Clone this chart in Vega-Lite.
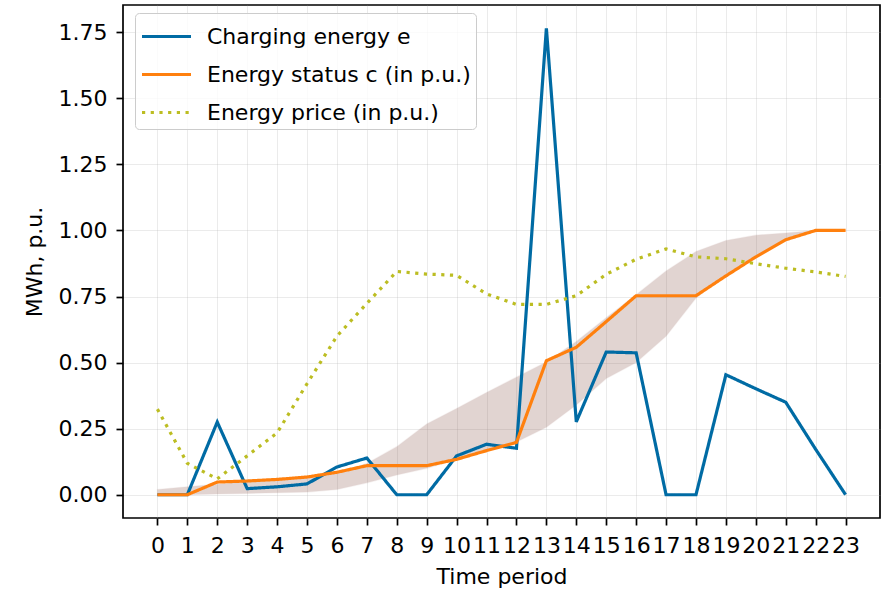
{
  "$schema": "https://vega.github.io/schema/vega-lite/v6.json",
  "width": 757,
  "height": 513,
  "autosize": "none",
  "padding": {"left": 123, "top": 5, "right": 1, "bottom": 73},
  "background": "white",
  "config": {
    "font": "DejaVu Sans",
    "view": {"stroke": "black", "strokeWidth": 1.7},
    "axis": {
      "domain": false,
      "grid": true,
      "gridColor": "#b0b0b0",
      "gridOpacity": 0.25,
      "gridWidth": 1,
      "tickColor": "black",
      "tickSize": 7,
      "tickWidth": 1.7,
      "labelFont": "DejaVu Sans",
      "labelFontSize": 22,
      "labelColor": "black",
      "labelOverlap": false,
      "titleFont": "DejaVu Sans",
      "titleFontSize": 22,
      "titleFontWeight": "normal",
      "titleColor": "black"
    }
  },
  "datasets": {
    "lines": [
      {"t": 0, "series": "Charging energy e", "v": 0},
      {"t": 1, "series": "Charging energy e", "v": 0},
      {"t": 2, "series": "Charging energy e", "v": 0.275},
      {"t": 3, "series": "Charging energy e", "v": 0.023},
      {"t": 4, "series": "Charging energy e", "v": 0.03},
      {"t": 5, "series": "Charging energy e", "v": 0.041},
      {"t": 6, "series": "Charging energy e", "v": 0.105},
      {"t": 7, "series": "Charging energy e", "v": 0.139},
      {"t": 8, "series": "Charging energy e", "v": 0},
      {"t": 9, "series": "Charging energy e", "v": 0},
      {"t": 10, "series": "Charging energy e", "v": 0.147},
      {"t": 11, "series": "Charging energy e", "v": 0.191},
      {"t": 12, "series": "Charging energy e", "v": 0.176},
      {"t": 13, "series": "Charging energy e", "v": 1.765},
      {"t": 14, "series": "Charging energy e", "v": 0.276},
      {"t": 15, "series": "Charging energy e", "v": 0.54},
      {"t": 16, "series": "Charging energy e", "v": 0.537},
      {"t": 17, "series": "Charging energy e", "v": 0},
      {"t": 18, "series": "Charging energy e", "v": 0},
      {"t": 19, "series": "Charging energy e", "v": 0.454},
      {"t": 20, "series": "Charging energy e", "v": 0.401},
      {"t": 21, "series": "Charging energy e", "v": 0.35},
      {"t": 22, "series": "Charging energy e", "v": 0.172},
      {"t": 23, "series": "Charging energy e", "v": 0},
      {"t": 0, "series": "Energy status c (in p.u.)", "v": 0},
      {"t": 1, "series": "Energy status c (in p.u.)", "v": 0},
      {"t": 2, "series": "Energy status c (in p.u.)", "v": 0.048},
      {"t": 3, "series": "Energy status c (in p.u.)", "v": 0.052},
      {"t": 4, "series": "Energy status c (in p.u.)", "v": 0.058},
      {"t": 5, "series": "Energy status c (in p.u.)", "v": 0.067},
      {"t": 6, "series": "Energy status c (in p.u.)", "v": 0.085},
      {"t": 7, "series": "Energy status c (in p.u.)", "v": 0.11},
      {"t": 8, "series": "Energy status c (in p.u.)", "v": 0.11},
      {"t": 9, "series": "Energy status c (in p.u.)", "v": 0.11},
      {"t": 10, "series": "Energy status c (in p.u.)", "v": 0.134},
      {"t": 11, "series": "Energy status c (in p.u.)", "v": 0.167},
      {"t": 12, "series": "Energy status c (in p.u.)", "v": 0.198},
      {"t": 13, "series": "Energy status c (in p.u.)", "v": 0.507},
      {"t": 14, "series": "Energy status c (in p.u.)", "v": 0.558},
      {"t": 15, "series": "Energy status c (in p.u.)", "v": 0.655},
      {"t": 16, "series": "Energy status c (in p.u.)", "v": 0.753},
      {"t": 17, "series": "Energy status c (in p.u.)", "v": 0.753},
      {"t": 18, "series": "Energy status c (in p.u.)", "v": 0.753},
      {"t": 19, "series": "Energy status c (in p.u.)", "v": 0.828},
      {"t": 20, "series": "Energy status c (in p.u.)", "v": 0.9},
      {"t": 21, "series": "Energy status c (in p.u.)", "v": 0.965},
      {"t": 22, "series": "Energy status c (in p.u.)", "v": 1.0},
      {"t": 23, "series": "Energy status c (in p.u.)", "v": 1.0},
      {"t": 0, "series": "Energy price (in p.u.)", "v": 0.324},
      {"t": 1, "series": "Energy price (in p.u.)", "v": 0.119},
      {"t": 2, "series": "Energy price (in p.u.)", "v": 0.06},
      {"t": 3, "series": "Energy price (in p.u.)", "v": 0.147},
      {"t": 4, "series": "Energy price (in p.u.)", "v": 0.234},
      {"t": 5, "series": "Energy price (in p.u.)", "v": 0.42},
      {"t": 6, "series": "Energy price (in p.u.)", "v": 0.6},
      {"t": 7, "series": "Energy price (in p.u.)", "v": 0.724},
      {"t": 8, "series": "Energy price (in p.u.)", "v": 0.845},
      {"t": 9, "series": "Energy price (in p.u.)", "v": 0.835},
      {"t": 10, "series": "Energy price (in p.u.)", "v": 0.83},
      {"t": 11, "series": "Energy price (in p.u.)", "v": 0.76},
      {"t": 12, "series": "Energy price (in p.u.)", "v": 0.72},
      {"t": 13, "series": "Energy price (in p.u.)", "v": 0.72},
      {"t": 14, "series": "Energy price (in p.u.)", "v": 0.753},
      {"t": 15, "series": "Energy price (in p.u.)", "v": 0.834},
      {"t": 16, "series": "Energy price (in p.u.)", "v": 0.891},
      {"t": 17, "series": "Energy price (in p.u.)", "v": 0.93},
      {"t": 18, "series": "Energy price (in p.u.)", "v": 0.9},
      {"t": 19, "series": "Energy price (in p.u.)", "v": 0.893},
      {"t": 20, "series": "Energy price (in p.u.)", "v": 0.874},
      {"t": 21, "series": "Energy price (in p.u.)", "v": 0.857},
      {"t": 22, "series": "Energy price (in p.u.)", "v": 0.843},
      {"t": 23, "series": "Energy price (in p.u.)", "v": 0.826}
    ],
    "band": [
      {"t": 0, "lo": 0, "hi": 0.02},
      {"t": 1, "lo": 0, "hi": 0.03},
      {"t": 2, "lo": 0.003, "hi": 0.04},
      {"t": 3, "lo": 0.005, "hi": 0.05},
      {"t": 4, "lo": 0.008, "hi": 0.058},
      {"t": 5, "lo": 0.01, "hi": 0.068},
      {"t": 6, "lo": 0.02, "hi": 0.084},
      {"t": 7, "lo": 0.045, "hi": 0.118},
      {"t": 8, "lo": 0.075, "hi": 0.182},
      {"t": 9, "lo": 0.1, "hi": 0.268},
      {"t": 10, "lo": 0.134, "hi": 0.326},
      {"t": 11, "lo": 0.167, "hi": 0.387},
      {"t": 12, "lo": 0.2, "hi": 0.445},
      {"t": 13, "lo": 0.255, "hi": 0.502},
      {"t": 14, "lo": 0.34, "hi": 0.58},
      {"t": 15, "lo": 0.44, "hi": 0.67},
      {"t": 16, "lo": 0.5, "hi": 0.757},
      {"t": 17, "lo": 0.6, "hi": 0.847},
      {"t": 18, "lo": 0.744, "hi": 0.92},
      {"t": 19, "lo": 0.834, "hi": 0.962},
      {"t": 20, "lo": 0.903, "hi": 0.982},
      {"t": 21, "lo": 0.96, "hi": 0.99},
      {"t": 22, "lo": 1.0, "hi": 1.0},
      {"t": 23, "lo": 1.0, "hi": 1.0}
    ]
  },
  "layer": [
    {
      "data": {"name": "band"},
      "mark": {"type": "area", "color": "#8c564b", "opacity": 0.25, "stroke": "#8c564b", "strokeOpacity": 0.3, "strokeWidth": 1.2},
      "encoding": {
        "x": {"field": "t", "type": "quantitative", "scale": {"domain": [-1.15, 24.15], "nice": false, "zero": false}, "axis": {"values": [0,1,2,3,4,5,6,7,8,9,10,11,12,13,14,15,16,17,18,19,20,21,22,23], "labelAngle": 0, "labelPadding": 10, "labelOverlap": false, "title": "Time period", "titlePadding": 10, "labelFlush": false}},
        "y": {"field": "lo", "type": "quantitative", "scale": {"domain": [-0.088, 1.853], "nice": false, "zero": false}, "axis": {"values": [0, 0.25, 0.5, 0.75, 1.0, 1.25, 1.5, 1.75], "format": ".2f", "labelPadding": 9, "title": "MWh, p.u.", "titlePadding": 12, "labelFlush": false}},
        "y2": {"field": "hi"}
      }
    },
    {
      "data": {"name": "lines"},
      "mark": {"type": "line", "strokeWidth": 3.2, "strokeCap": "butt", "strokeJoin": "miter"},
      "encoding": {
        "x": {"field": "t", "type": "quantitative", "axis": {"values": [0,1,2,3,4,5,6,7,8,9,10,11,12,13,14,15,16,17,18,19,20,21,22,23], "labelAngle": 0, "labelPadding": 10, "labelOverlap": false, "title": "Time period", "titlePadding": 10, "labelFlush": false}},
        "y": {"field": "v", "type": "quantitative"},
        "color": {
          "field": "series", "type": "nominal",
          "scale": {"domain": ["Charging energy e", "Energy status c (in p.u.)", "Energy price (in p.u.)"], "range": ["#006ba4", "#ff800e", "#bcbd22"]},
          "legend": {
            "title": " ", "titleFontSize": 1, "titlePadding": -9, "orient": "none", "legendX": 12, "legendY": 8,
            "symbolType": "stroke", "symbolSize": 2401, "symbolStrokeWidth": 3.2,
            "labelFontSize": 22, "labelFont": "DejaVu Sans", "labelColor": "black", "labelLimit": 0,
            "labelOffset": 14, "rowPadding": -7, "padding": 5,
            "strokeColor": "#cccccc", "fillColor": "rgba(255,255,255,0.8)", "cornerRadius": 4
          }
        },
        "strokeDash": {
          "field": "series", "type": "nominal",
          "scale": {"domain": ["Charging energy e", "Energy status c (in p.u.)", "Energy price (in p.u.)"], "range": [[1, 0], [1, 0], [3.2, 5.5]]},
          "legend": {"title": " "}
        }
      }
    }
  ]
}
